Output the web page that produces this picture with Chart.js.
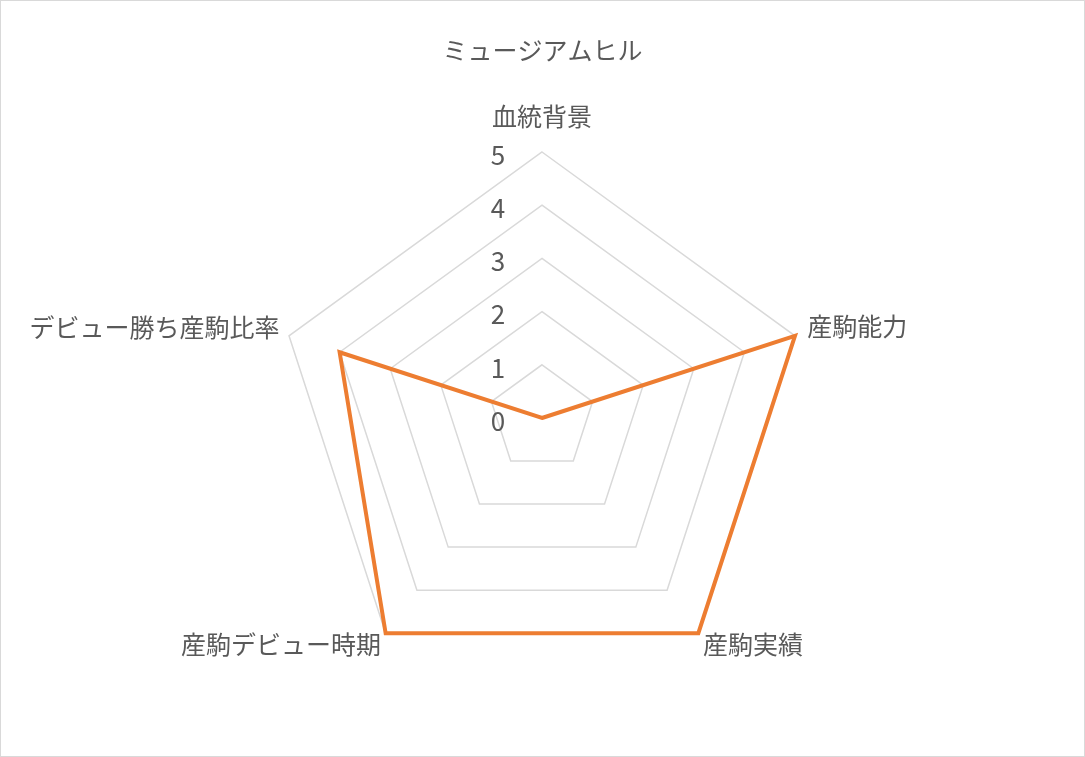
<!DOCTYPE html>
<html>
<head>
<meta charset="utf-8">
<script src="https://cdn.jsdelivr.net/npm/chart.js@4"></script>
<style>
  html, body { margin: 0; padding: 0; background: #fff; }
  #wrap { width: 1085px; height: 757px; box-sizing: border-box; border: 1px solid #d9d9d9; }
</style>
</head>
<body>
<div id="wrap"><canvas id="radar"></canvas></div>
<script>
// Chart data
const title = 'ミュージアムヒル';
const categories = ['血統背景', '産駒能力', '産駒実績', '産駒デビュー時期', 'デビュー勝ち産駒比率'];
const scores = [0, 5, 5, 5, 4];
const scaleMin = 0;
const scaleMax = 5;
const scaleStep = 1;

const textColor = '#595959';
Chart.defaults.font.family = "'Noto Sans CJK JP', 'Noto Sans', sans-serif";

// title centred on the whole canvas, and Excel style tick labels
// left of the vertical axis (including 0)
const excelText = {
    id: 'excelText',
    afterDraw(chart) {
        const r = chart.scales.r;
        const ctx = chart.ctx;
        ctx.save();
        ctx.fillStyle = textColor;
        ctx.textAlign = 'center';
        ctx.textBaseline = 'middle';
        ctx.font = "25px 'Noto Sans CJK JP', sans-serif";
        ctx.fillText(title, chart.width / 2, 49);
        ctx.font = "26px 'Noto Sans CJK JP', sans-serif";
        r.ticks.forEach(t => {
            const d = r.getDistanceFromCenterForValue(t.value);
            ctx.fillText(String(t.value), r.xCenter - 44, r.yCenter - d + 3);
        });
        ctx.restore();
    }
};

const labelPadding = [31, 13, 8, 8, 10];

new Chart(document.getElementById('radar').getContext('2d'), {
    type: 'radar',
    data: {
        labels: categories,
        datasets: [{
            label: title,
            data: scores,
            borderColor: '#ED7D31',
            borderWidth: 4,
            borderJoinStyle: 'miter',
            fill: false,
            pointRadius: 0,
            pointHoverRadius: 0,
            tension: 0
        }]
    },
    options: {
        responsive: true,
        maintainAspectRatio: false,
        animation: false,
        layout: { padding: { top: 90, bottom: 51, left: 0, right: 20 } },
        plugins: {
            legend: { display: false },
            tooltip: { enabled: false },
            title: { display: false }
        },
        scales: {
            r: {
                min: scaleMin,
                max: scaleMax,
                ticks: { stepSize: scaleStep, display: false },
                angleLines: { display: false },
                grid: { color: '#d9d9d9', lineWidth: 1.5 },
                pointLabels: {
                    color: textColor,
                    font: { size: 25, lineHeight: 0.4 },
                    padding: ctx => labelPadding[ctx.index]
                }
            }
        }
    },
    plugins: [excelText]
});
</script>
</body>
</html>
